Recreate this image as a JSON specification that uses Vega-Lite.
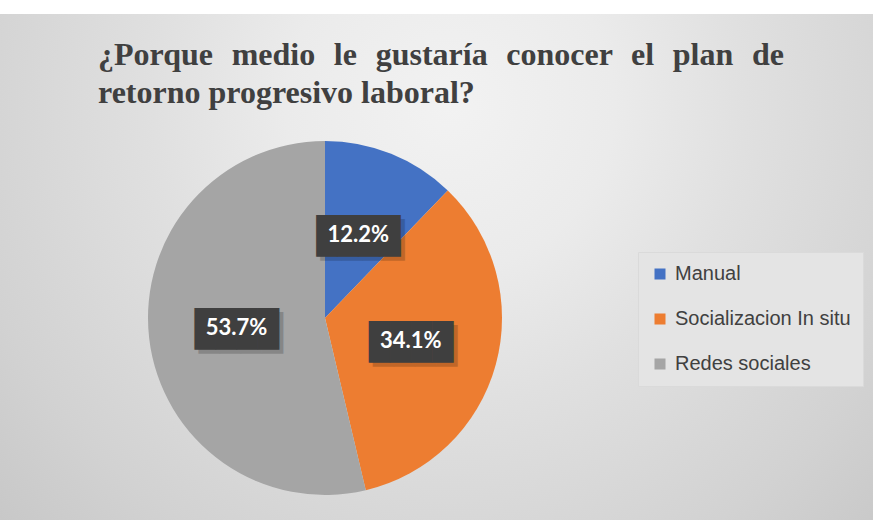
{
  "$schema": "https://vega.github.io/schema/vega-lite/v6.json",
  "width": 1096,
  "height": 608,
  "autosize": {"type": "none"},
  "padding": {"left": -223, "top": 14, "right": 0, "bottom": -102},
  "background": "#ffffff",
  "view": {
    "stroke": null,
    "fill": {
      "gradient": "radial",
      "x1": 0.614, "y1": 0.306, "r1": 0,
      "x2": 0.614, "y2": 0.306, "r2": 0.6,
      "stops": [
        {"offset": 0, "color": "#f2f2f2"},
        {"offset": 0.25, "color": "#ebebeb"},
        {"offset": 0.45, "color": "#e0e0e0"},
        {"offset": 0.75, "color": "#d2d2d2"},
        {"offset": 1, "color": "#c4c4c4"}
      ]
    }
  },
  "title": {
    "text": ["¿Porque \u2004medio \u2004le \u2004gustaría \u2004conocer \u2004el \u2004plan \u2004de", "retorno progresivo laboral?"],
    "anchor": "start",
    "frame": "group",
    "align": "left",
    "baseline": "top",
    "dx": 321,
    "dy": 96,
    "offset": 0,
    "font": "Liberation Serif",
    "fontSize": 32,
    "fontWeight": "bold",
    "color": "#404040",
    "lineHeight": 38
  },
  "data": {
    "values": [
      {"medio": "Manual", "valor": 0.122},
      {"medio": "Socializacion In situ", "valor": 0.341},
      {"medio": "Redes sociales", "valor": 0.537}
    ]
  },
  "encoding": {
    "theta": {"field": "valor", "type": "quantitative", "stack": true},
    "order": {"field": "valor", "type": "quantitative", "sort": "ascending"}
  },
  "layer": [
    {
      "mark": {"type": "arc", "outerRadius": 177},
      "encoding": {
        "color": {
          "field": "medio",
          "type": "nominal",
          "scale": {
            "domain": ["Manual", "Socializacion In situ", "Redes sociales"],
            "range": ["#4472C4", "#ED7D31", "#A5A5A5"]
          },
          "legend": {
            "orient": "none",
            "legendX": 861,
            "legendY": 238,
            "title": null,
            "symbolType": "square",
            "symbolSize": 121,
            "symbolStrokeWidth": 0,
            "labelFont": "Liberation Sans",
            "labelFontSize": 20,
            "labelColor": "#404040",
            "rowPadding": 25,
            "padding": 12,
            "fillColor": "#e4e4e4",
            "strokeColor": "#dadada",
            "labelOffset": 5,
            "labelLimit": 300
          }
        }
      }
    },
    {
      "mark": {"type": "text", "text": "████", "font": "DejaVu Sans Mono", "fontSize": 35, "radius": 89, "dx": 4, "dy": 6, "color": "#000000", "opacity": 0.18},
      "encoding": {"detail": {"field": "medio", "type": "nominal"}}
    },
    {
      "mark": {"type": "text", "text": "████", "font": "DejaVu Sans Mono", "fontSize": 35, "radius": 89, "dy": 2, "color": "#3f3f3f"},
      "encoding": {"detail": {"field": "medio", "type": "nominal"}}
    },
    {
      "mark": {"type": "text", "radius": 89, "font": "Lato", "fontWeight": "bold", "fontSize": 22, "color": "#ffffff"},
      "encoding": {
        "text": {"field": "valor", "type": "quantitative", "format": ".1%"},
        "detail": {"field": "medio", "type": "nominal"}
      }
    }
  ]
}
